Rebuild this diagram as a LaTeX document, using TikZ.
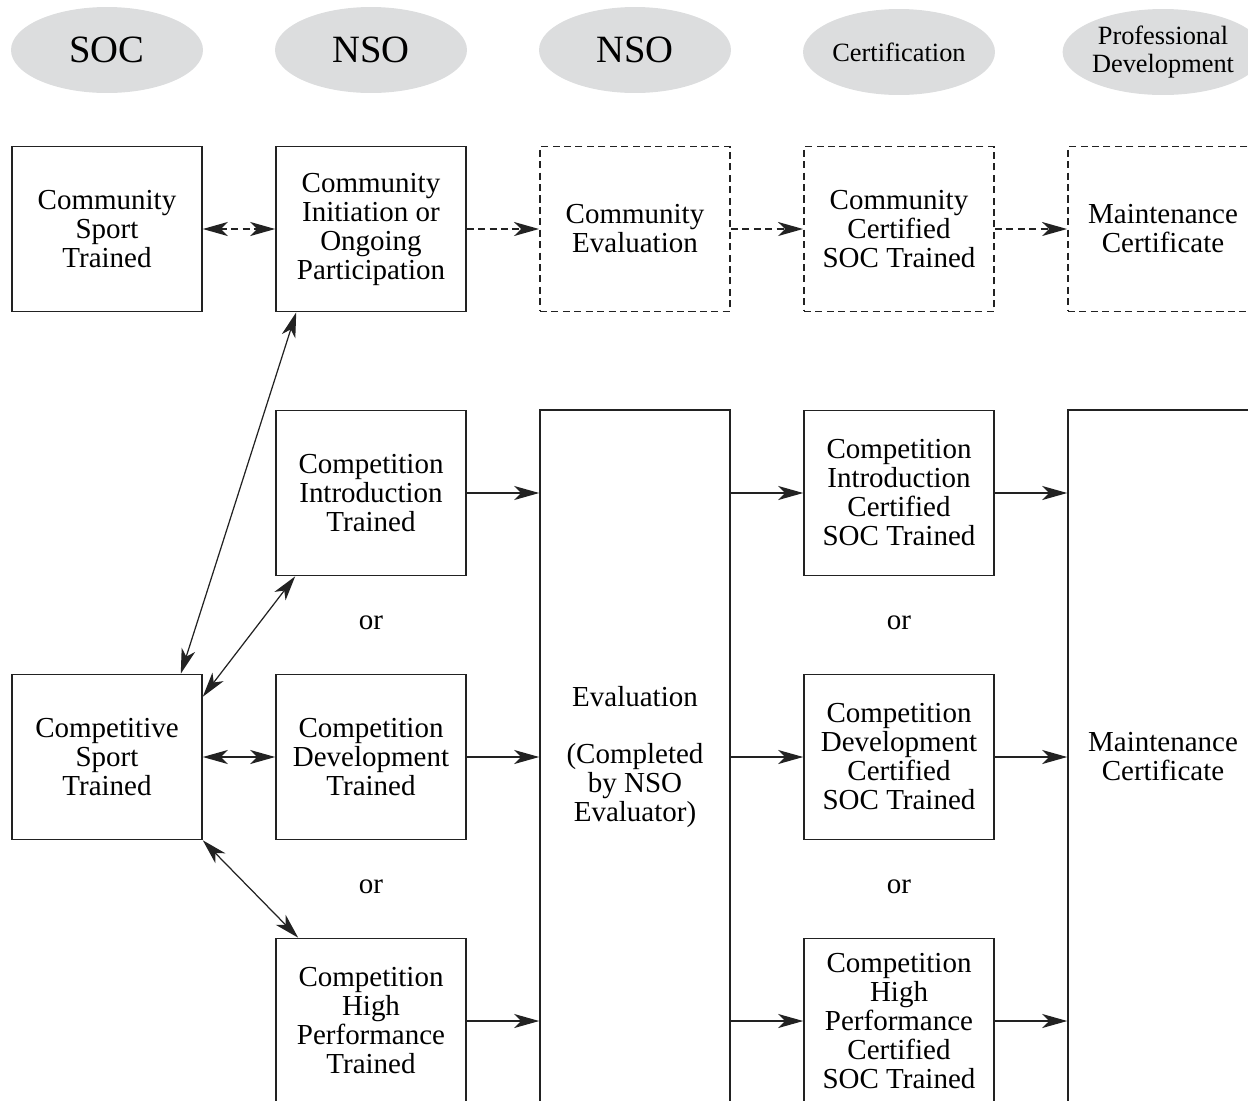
\documentclass[tikz,border=0pt]{standalone}
\usepackage{fontspec}
\setmainfont{Liberation Serif}
\usetikzlibrary{arrows.meta,shapes.geometric}
\definecolor{socgray}{HTML}{DCDDDE}
\definecolor{socline}{HTML}{222222}

\begin{document}
\begin{tikzpicture}[x=0.02cm, y=-0.02cm, >={Stealth[length=5mm, width=2.8mm, inset=1.4mm]},
  head/.style={ellipse, fill=socgray, minimum width=3.84cm, minimum height=1.72cm, inner sep=0pt, align=center, font=\fontsize{22}{24}\selectfont},
  headsm/.style={head, font=\fontsize{15}{16}\selectfont},
  box/.style={draw=socline, line width=0.9pt, minimum width=3.8cm, minimum height=3.3cm, inner sep=0pt, align=center, font=\fontsize{16.5}{16.5}\selectfont},
  dbox/.style={box, dash pattern=on 4pt off 2.5pt, line width=1.1pt},
  tall/.style={box, minimum height=13.88cm},
  ortext/.style={font=\fontsize{16.5}{16.5}\selectfont},
  link/.style={<->, socline, line width=0.7pt},
  flow/.style={->, socline, line width=0.7pt},
  dflow/.style={->, socline, line width=1.2pt, dash pattern=on 4pt off 2.5pt}]
  \useasboundingbox (0,0) rectangle (1248,1100);
  \clip (0,0) rectangle (1248,1100);

  % column headers
  \node[head] (h1) at (107,50) {SOC};
  \node[head] (h2) at (371,50) {NSO};
  \node[head] (h3) at (635,50) {NSO};
  \node[headsm] (h4) at (899,52) {Certification};
  \node[headsm] (h5) at (1163,52) {Professional\\Development};

  % community stream
  \node[box] (cst) at (107,229) {Community\\Sport\\Trained};
  \node[box] (cio) at (371,229) {Community\\Initiation or\\Ongoing\\Participation};
  \node[dbox] (cev) at (635,229) {Community\\Evaluation};
  \node[dbox] (ccs) at (899,229) {Community\\Certified\\SOC Trained};
  \node[dbox] (cmc) at (1163,229) {Maintenance\\Certificate};

  % competition stream
  \node[box] (cmp) at (107,757) {Competitive\\Sport\\Trained};
  \node[box] (cit) at (371,493) {Competition\\Introduction\\Trained};
  \node[box] (cdt) at (371,757) {Competition\\Development\\Trained};
  \node[box] (chp) at (371,1021) {Competition\\High\\Performance\\Trained};
  \node[tall] (eval) at (635,757) {Evaluation\\[0.58cm](Completed\\by NSO\\Evaluator)};
  \node[box] (cic) at (899,493) {Competition\\Introduction\\Certified\\SOC Trained};
  \node[box] (cdc) at (899,757) {Competition\\Development\\Certified\\SOC Trained};
  \node[box] (chc) at (899,1021) {Competition\\High\\Performance\\Certified\\SOC Trained};
  \node[tall] (mnt) at (1163,757) {Maintenance\\Certificate};

  \node[ortext] (or1) at (371,623) {or};
  \node[ortext] (or2) at (899,623) {or};
  \node[ortext] (or3) at (371,887) {or};
  \node[ortext] (or4) at (899,887) {or};

  % community arrows (dashed)
  \draw[dflow, <->] (cst.east) -- (cio.west);
  \draw[dflow] (cio.east) -- (cev.west);
  \draw[dflow] (cev.east) -- (ccs.west);
  \draw[dflow] (ccs.east) -- (cmc.west);

  % links out of competitive sport
  \draw[link] ([xshift=-0.44cm]cmp.north east) -- ([xshift=0.42cm]cio.south west);
  \draw[link] ([yshift=-0.46cm]cmp.north east) -- ([xshift=0.4cm]cit.south west);
  \draw[link] (cmp.east) -- (cdt.west);
  \draw[link] (cmp.south east) -- ([xshift=0.46cm]chp.north west);

  % into evaluation, certification, maintenance
  \foreach \a/\c in {cit/cic, cdt/cdc, chp/chc}{
    \draw[flow] (\a.east) -- (\a.east -| eval.west);
    \draw[flow] (eval.east |- \c.west) -- (\c.west);
    \draw[flow] (\c.east) -- (\c.east -| mnt.west);
  }
\end{tikzpicture}
\end{document}
